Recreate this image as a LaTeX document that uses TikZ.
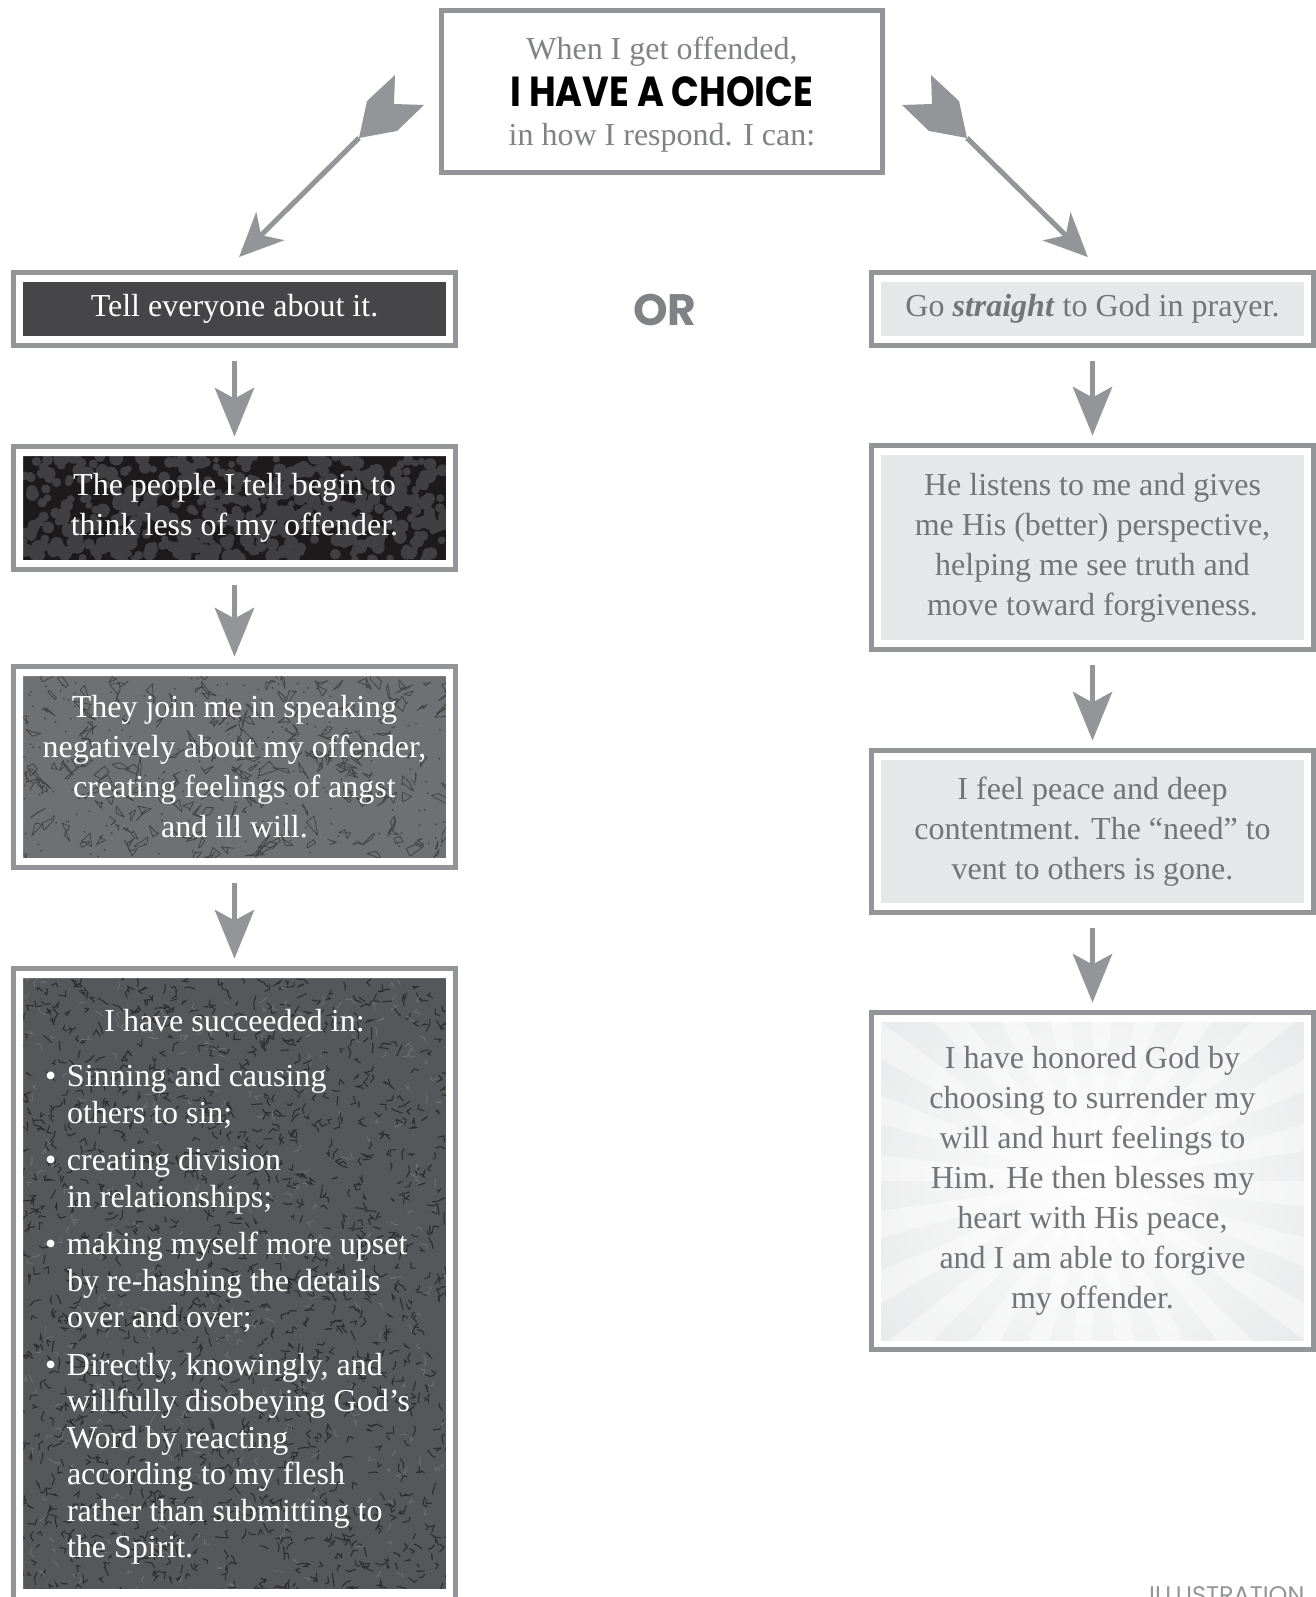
\documentclass[tikz,border=0pt]{standalone}
\usepackage{fontspec}
\setmainfont{Liberation Serif}
\newfontfamily\geofont{Poppins}
\usetikzlibrary{arrows.meta,calc}
\definecolor{frame}{HTML}{939598}
\definecolor{toptext}{HTML}{808285}
\definecolor{rtext}{HTML}{737477}
\definecolor{rpanel}{HTML}{E6E7E8}
\definecolor{panelA}{HTML}{464648}
\definecolor{panelB}{HTML}{1C1A1B}
\definecolor{dotB}{HTML}{404042}
\definecolor{panelC}{HTML}{6F7073}
\definecolor{markC}{HTML}{444446}
\definecolor{panelD}{HTML}{56575A}
\definecolor{markD}{HTML}{2E2E30}
\definecolor{markDl}{HTML}{6E6F72}
\newcommand{\bitem}[1]{\par\hangindent=22pt\hangafter=1\noindent\makebox[22pt][l]{\textbullet}#1\par}
\tikzset{
  box/.style={draw=frame, line width=5pt, minimum width=442pt, inner sep=0pt, outer sep=0pt,
    align=center, font=\fontsize{32}{40}\selectfont},
  lbox/.style={box, text=white},
  rbox/.style={box, text=rtext},
  varrow/.style={draw=frame, line width=5pt,
    -{Stealth[length=49pt,width=40pt,inset=11pt,line width=0pt]},
    shorten <=15pt, shorten >=10pt},
  darrow/.style={draw=frame, line width=5pt,
    -{Stealth[length=44pt,width=40pt,inset=13pt,line width=0pt]},
    shorten >=22pt},
}
\begin{document}
\begin{tikzpicture}[x=1pt,y=-1pt]
\useasboundingbox (0,0) rectangle (1316,1597);
\clip (0,0) rectangle (1316,1597);
\fill[white] (0,0) rectangle (1316,1597);

% ---------- left panels ----------
\fill[panelA] (23,282) rectangle (446,336);

\begin{scope}
  \clip (23,456) rectangle (446,560);
  \fill[panelB] (23,456) rectangle (446,560);
  \pgfmathsetseed{7}
  \foreach \i in {1,...,520}{
    \fill[dotB] ({23+423*rnd},{456+104*rnd}) circle ({3+4.5*rnd});
  }
\end{scope}
\fill[white, even odd rule] (16,449) rectangle (453,567) (23,456) rectangle (446,560);

\begin{scope}
  \clip (23,676) rectangle (446,858);
  \fill[panelC] (23,676) rectangle (446,858);
  \pgfmathsetseed{11}
  \foreach \i in {1,...,230}{
    \draw[markC, line width=0.8pt, line join=round] ({23+423*rnd},{676+182*rnd})
      -- ++({10*rand},{10*rand}) -- ++({10*rand},{10*rand}) -- ++({8*rand},{8*rand}) -- cycle;
  }
  \foreach \i in {1,...,220}{
    \fill[markC] ({23+423*rnd},{676+182*rnd}) circle (1);
  }
\end{scope}
\fill[white, even odd rule] (16,669) rectangle (453,865) (23,676) rectangle (446,858);

\begin{scope}
  \clip (23,978) rectangle (446,1589);
  \fill[panelD] (23,978) rectangle (446,1589);
  \pgfmathsetseed{5}
  \foreach \i in {1,...,1400}{
    \draw[markD, line width=1.1pt, line cap=round] ({23+423*rnd},{978+611*rnd})
      -- ++({360*rnd}:{3+5*rnd}) -- ++({360*rnd}:{2+5*rnd});
  }
  \foreach \i in {1,...,350}{
    \draw[markDl, line width=0.9pt, line cap=round] ({23+423*rnd},{978+611*rnd})
      -- ++({360*rnd}:{3+4*rnd}) -- ++({360*rnd}:{2+4*rnd});
  }
\end{scope}
\fill[white, even odd rule] (16,971) rectangle (453,1605) (23,978) rectangle (446,1589);

% ---------- right panels ----------
\fill[rpanel] (881,282) rectangle (1304,336);
\fill[rpanel] (881,455) rectangle (1304,640);
\fill[rpanel] (881,760) rectangle (1304,903);
\begin{scope}
  \clip (881,1022) rectangle (1304,1340);
  \shade[inner color=white, outer color=rpanel] (1092.5,1181) circle (300);
  \foreach \a in {0,15,...,345}{
    \fill[white, opacity=0.4] (1092.5,1181) -- ++(\a:700) -- ++(\a+90:{700*0.122}) -- cycle;
  }
\end{scope}

% ---------- nodes ----------
\node[box, minimum width=441pt, minimum height=162pt, font=\fontsize{32}{42}\selectfont] (top) at (662,91.5)
  {\rule{0pt}{29pt}{\color{toptext}When I get offended,}\\[5pt]
   {\geofont\bfseries\fontsize{42}{42}\selectfont\scalebox{0.87}[1]{I HAVE A CHOICE}}\\[-3pt]
   {\color{toptext}in how I respond. I can:}};

\node[font=\geofont\bfseries\fontsize{44}{44}\selectfont, text=toptext] (or) at (665,310) {OR};

\node[lbox, minimum height=73pt] (L1) at (234.5,309) {Tell everyone about it.};
\node[lbox, minimum height=123pt] (L2) at (234.5,508) {The people I tell begin to\\think less of my offender.};
\node[lbox, minimum height=201pt] (L3) at (234.5,767)
  {They join me in speaking\\negatively about my offender,\\creating feelings of angst\\and ill will.};
\node[lbox, minimum height=639pt] (L4) at (234.5,1288)
  {\begin{minipage}[c][620pt][t]{379pt}
   \fontsize{32}{36.5}\selectfont\color{white}
   \vspace*{31pt}
   {\centering I have succeeded in:\par}
   \raggedright
   \vspace{19pt}
   \bitem{Sinning and causing\newline others to sin;}
   \vspace{11pt}
   \bitem{creating division\newline in relationships;}
   \vspace{11pt}
   \bitem{making myself more upset\newline by re-hashing the details\newline over and over;}
   \vspace{11pt}
   \bitem{Directly, knowingly, and\newline willfully disobeying God’s\newline Word by reacting\newline according to my flesh\newline rather than submitting to\newline the Spirit.}
   \end{minipage}};

\node[rbox, minimum height=73pt] (R1) at (1092.5,309) {Go \textbf{\textit{straight}} to God in prayer.};
\node[rbox, minimum height=204pt] (R2) at (1092.5,547.5)
  {He listens to me and gives\\me His (better) perspective,\\helping me see truth and\\move toward forgiveness.};
\node[rbox, minimum height=162pt] (R3) at (1092.5,831.5)
  {I feel peace and deep\\contentment. The “need” to\\vent to others is gone.};
\node[rbox, minimum height=337pt] (R4) at (1092.5,1181)
  {I have honored God by\\choosing to surrender my\\will and hurt feelings to\\Him. He then blesses my\\heart with His peace,\\and I am able to forgive\\my offender.};

\node[font=\geofont\fontsize{24}{24}\selectfont, text=frame, anchor=base east] (ill) at (1308,1603) {ILLUSTRATION};

% ---------- connectors ----------
\coordinate (lf) at (359,138);
\coordinate (rf) at (967,138);
\fill[frame] (395,75) -- (367,101) -- (lf) -- (397,131) -- (424,105) -- (394,104) -- cycle;
\fill[frame] (931,75) -- (959,101) -- (rf) -- (929,131) -- (902,105) -- (932,104) -- cycle;
\draw[darrow] (lf) -- ([xshift=-11pt]L1.north);
\draw[darrow] (rf) -- ([xshift=11pt]R1.north);

\draw[varrow] (L1) -- (L2);
\draw[varrow] (L2) -- (L3);
\draw[varrow] (L3) -- (L4);
\draw[varrow] (R1) -- (R2);
\draw[varrow] (R2) -- (R3);
\draw[varrow] (R3) -- (R4);
\end{tikzpicture}
\end{document}
